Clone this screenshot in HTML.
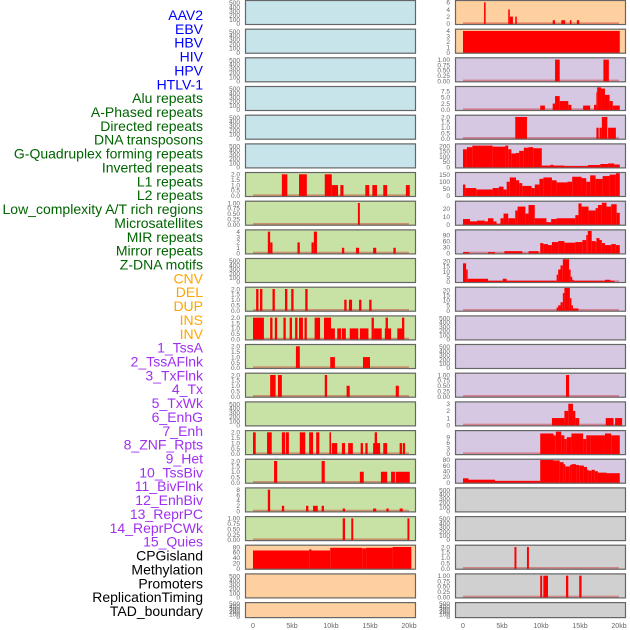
<!DOCTYPE html>
<html><head><meta charset="utf-8">
<style>
html,body{margin:0;padding:0;background:#fff;}
svg{display:block;font-family:"Liberation Sans",sans-serif;}
</style></head>
<body>
<svg id="chart" width="630" height="630" viewBox="0 0 630 630" xmlns="http://www.w3.org/2000/svg"></svg>
<script>
// ---- data ----
const trackLabels = ["AAV2","EBV","HBV","HIV","HPV","HTLV-1","Alu repeats","A-Phased repeats","Directed repeats","DNA transposons","G-Quadruplex forming repeats","Inverted repeats","L1 repeats","L2 repeats","Low_complexity A/T rich regions","Microsatellites","MIR repeats","Mirror repeats","Z-DNA motifs","CNV","DEL","DUP","INS","INV","1_TssA","2_TssAFlnk","3_TxFlnk","4_Tx","5_TxWk","6_EnhG","7_Enh","8_ZNF_Rpts","9_Het","10_TssBiv","11_BivFlnk","12_EnhBiv","13_ReprPC","14_ReprPCWk","15_Quies","CPGisland","Methylation","Promoters","ReplicationTiming","TAD_boundary"];
const labelGroups = [6,13,5,15,5];
const xTickLabels = ["0","5kb","10kb","15kb","20kb"];
const xTickValues = [0,5,10,15,20];

// segments: [startKb, endKb, value]
const leftL1 = [[3.7,4.4,2],[5.9,6.9,2],[9.2,10.1,2],[10.1,10.9,1],[11.2,11.6,1],[14.4,14.9,1],[15.3,15.9,1],[16.7,17.2,1],[19.6,20.1,1]];
const leftLowComp = [[13.45,13.7,1]];
const leftMIR = [[1.9,2.2,4],[2.2,2.5,2],[5.7,6.0,2],[7.5,7.8,2],[7.8,8.2,4],[11.4,11.7,1],[13.2,13.6,1],[15.4,15.8,1],[18.0,18.3,1]];
const leftDEL = [[0.4,0.7,2],[0.9,1.2,2],[2.5,2.8,2],[4.1,4.4,2],[4.9,5.2,2],[6.7,7.0,2],[11.7,12.0,1],[12.3,12.7,1],[13.6,13.9,1],[14.9,15.2,1]];
const leftINS = [[0,1.4,2],[2.2,2.5,2],[2.8,3.1,2],[3.9,4.2,2],[4.7,5.0,2],[5.4,5.7,2],[5.9,6.4,2],[6.6,6.9,2],[7.9,8.6,2],[9.1,10.0,2],[10.0,10.5,1],[10.8,11.3,1],[11.4,11.9,1],[12.4,13.5,1],[13.7,14.8,1],[15.2,15.5,2],[15.5,16.5,1],[16.9,17.7,1],[17.0,17.3,2],[18.5,19.1,1],[19.1,19.4,2]];
const leftTssA = [[5.5,6.0,2],[9.9,10.5,1],[14.1,15.0,1]];
const leftTxFlnk = [[2.2,2.9,2],[3.2,3.7,2],[9.2,9.5,2],[12.0,12.4,1],[18.3,18.7,1]];
const leftEnh = [[0,0.35,2],[1.8,2.4,2],[3.7,4.1,2],[4.2,4.6,2],[6.0,6.7,2],[7.2,7.7,2],[8.1,8.5,2],[9.8,10.0,2],[10.1,10.8,1],[11.4,11.8,1],[12.2,12.8,1],[13.8,14.1,1],[14.4,14.7,1],[15.4,16.3,1],[15.6,15.9,2],[16.7,17.2,1],[18.8,19.1,1],[19.2,19.5,1]];
const leftHet = [[2.7,3.1,2],[8.8,9.2,2],[13.7,14.2,1],[16.4,17.2,1],[17.7,18.2,1],[18.3,20.1,1]];
const leftBivFlnk = [[1.9,2.2,8],[3.7,4.0,2],[6.8,7.1,2],[7.7,8.3,2],[8.8,9.1,2],[11.5,11.8,1],[15.4,15.8,1],[17.1,17.4,1],[18.8,19.2,1]];
const leftReprPC = [[11.5,11.8,1],[12.6,12.85,1],[19.8,20.05,1]];
const leftCPG = [[0,7.2,67],[7.2,7.5,71],[7.5,9.9,67],[9.9,14.0,77],[14.0,14.5,75],[14.5,17.9,77],[17.9,20.3,80]];
const rightAAV2 = [[2.7,2.9,6],[5.8,6.0,4],[6.0,6.4,2],[6.7,6.9,2],[11.5,11.8,1],[12.6,13.1,1],[13.7,13.9,1],[14.6,14.9,1]];
const rightEBV = [[0,20.1,4]];
const rightHIV = [[11.8,12.4,1],[18.0,18.7,1]];
const rightAlu = [[9.9,10.5,1.7],[11.5,11.8,2.5],[11.8,12.4,5.5],[12.4,13.5,3.5],[13.5,13.9,2],[15.4,16.3,1.7],[16.8,17.1,2],[17.1,17.2,7],[17.2,17.7,9],[17.7,18.2,8.5],[18.2,18.8,6],[18.8,19.2,3.5],[19.2,20.1,1.7]];
const rightDirected = [[6.7,8.2,2],[17.1,17.4,1],[17.5,17.8,1],[17.8,18.5,2],[18.6,19.6,1]];
const rightGQuad = [[0,0.5,170],[0.5,1.2,190],[1.2,3.8,205],[3.8,5.4,195],[5.4,5.8,205],[5.8,6.2,170],[6.2,6.8,130],[6.8,7.2,135],[7.2,7.8,155],[7.8,8.4,185],[8.4,9.0,190],[9.0,10.1,180],[10.1,11.2,15],[11.2,11.6,22],[11.6,13.0,15],[13.0,16.0,10],[16.0,17.6,20],[17.6,18.6,30],[18.6,19.4,35],[19.4,20.1,25]];
const rightL1 = [[0,0.3,80],[0.3,1.7,55],[1.7,3.8,45],[3.8,4.6,55],[4.6,5.2,65],[5.2,5.6,45],[5.6,6.0,100],[6.0,6.8,130],[6.8,7.2,110],[7.2,7.6,90],[7.6,8.8,70],[8.8,9.2,55],[9.2,9.8,80],[9.8,10.3,120],[10.3,11.4,130],[11.4,12.0,110],[12.0,13.4,95],[13.4,14.0,100],[14.0,15.2,135],[15.2,15.8,125],[15.8,16.3,100],[16.3,17.0,145],[17.0,17.9,120],[17.9,18.8,140],[18.8,19.6,150],[19.6,20.1,160]];
const rightLowComp = [[0,0.9,7],[0.9,1.8,4],[1.8,2.8,5],[2.8,3.2,4],[3.2,3.9,8],[3.9,4.3,4],[4.3,4.8,0.5],[4.8,5.2,8],[5.2,5.8,14],[5.8,6.7,8],[6.7,7.0,18],[7.0,8.0,23],[8.0,8.4,14],[8.4,9.2,25],[9.2,10.7,8],[10.7,11.3,3],[11.3,12.0,7],[12.0,14.4,8],[14.4,14.8,12],[14.8,15.2,27],[15.2,16.1,23],[16.1,17.0,18],[17.0,17.3,21],[17.3,17.8,25],[17.8,18.4,28],[18.4,19.0,23],[19.0,19.7,26],[19.7,20.1,15]];
const rightMIR = [[0,0.8,5],[3.2,4.1,5],[5.3,7.6,10],[8.4,9.7,10],[9.9,10.3,50],[10.3,10.9,45],[10.9,11.4,40],[11.4,12.2,55],[12.2,13.0,60],[13.0,14.4,52],[14.4,15.3,55],[15.3,15.8,65],[15.8,16.0,90],[16.0,16.5,110],[16.5,17.0,60],[17.0,17.1,55],[17.1,17.5,75],[17.5,17.8,65],[17.8,18.2,50],[18.2,19.0,40],[19.0,19.6,45],[19.6,20.1,40]];
const rightZDNA = [[0,0.4,18],[0.4,0.6,12],[0.6,3.2,3],[3.2,5.1,1],[5.1,5.6,3],[5.6,12.0,1],[12.0,12.2,7],[12.2,12.5,12],[12.5,12.8,16],[12.8,13.6,22],[13.6,13.8,12],[13.8,14.0,5],[14.0,14.2,2],[14.2,18.2,1],[18.2,18.9,2],[18.9,19.4,1]];
const rightDEL = [[12.0,12.2,3],[12.2,12.5,5],[12.5,12.8,8],[12.8,13.0,17],[13.0,13.7,22],[13.7,13.9,12],[13.9,14.1,5],[14.1,14.8,2]];
const rightTx = [[13.2,13.6,1]];
const rightTxWk = [[11.4,13.0,1],[13.0,13.5,2],[13.5,14.1,3],[14.1,14.4,2],[14.4,14.9,1],[18.3,19.3,1],[19.5,20.4,1]];
const rightEnh = [[9.9,11.6,11],[11.6,11.9,10],[11.9,12.6,12],[12.6,13.0,10],[13.0,13.3,8],[13.3,13.9,9],[13.9,15.4,11],[15.4,15.8,8],[15.8,16.3,10],[16.3,18.2,10],[18.2,19.0,11],[19.0,20.1,10]];
const rightHet = [[0,0.7,15],[0.7,4.1,10],[4.1,9.9,6],[9.9,11.6,80],[11.6,12.4,78],[12.4,12.9,72],[12.9,13.1,65],[13.1,13.7,57],[13.7,13.9,62],[13.9,14.5,65],[14.5,14.9,62],[14.9,15.5,60],[15.5,15.9,55],[15.9,16.1,45],[16.1,16.5,42],[16.5,16.9,45],[16.9,17.3,40],[17.3,18.4,35],[18.4,20.1,33]];
const rightCPG = [[6.6,6.85,2],[8.2,8.45,2]];
const rightMeth = [[9.9,10.15,1],[10.3,10.9,1],[13.2,13.5,1],[14.9,15.2,1]];

// y tick label sets
const ticksEmpty = ["0","100","200","300","400","500"];
const ticks2 = ["0.0","0.5","1.0","1.5","2.0"];
const ticks1 = ["0.00","0.25","0.50","0.75","1.00"];

// ---- layout ----
const svg = document.getElementById('chart');
const NS = 'http://www.w3.org/2000/svg';
function mk(tag, attrs, parent){ const e=document.createElementNS(NS,tag); for(const k in attrs) e.setAttribute(k,attrs[k]); (parent||svg).appendChild(e); return e; }

const groupColors = ["#0000ff","#006400","#ffa500","#a030f0","#000000"];
let gi=0, cnt=0;
trackLabels.forEach((t,i)=>{
  while(cnt>=labelGroups[gi]){ gi++; cnt=0; }
  cnt++;
  const e = mk('text',{x:203,y:(15+i*13.86+5).toFixed(1),'text-anchor':'end','font-size':'14',fill:groupColors[gi]});
  e.textContent=t;
  
  
});

const BG = {blue:"#c7e4eb",green:"#c8e2a5",peach:"#ffd09f",lav:"#d6c8e2",grey:"#d0d0d0"};
// panel specs: [bgKey, ymax, tickLabels, data]
const leftPanels = [
 ["blue",540,ticksEmpty,null],["blue",540,ticksEmpty,null],["blue",540,ticksEmpty,null],["blue",540,ticksEmpty,null],["blue",540,ticksEmpty,null],["blue",540,ticksEmpty,null],
 ["green",2.1,ticks2,leftL1],["green",1.05,ticks1,leftLowComp],["green",4.2,["0","1","2","3","4"],leftMIR],["green",540,ticksEmpty,null],
 ["green",2.1,ticks2,leftDEL],["green",2.1,ticks2,leftINS],["green",2.1,ticks2,leftTssA],["green",2.1,ticks2,leftTxFlnk],["green",540,ticksEmpty,null],
 ["green",2.1,ticks2,leftEnh],["green",2.1,ticks2,leftHet],["green",8.4,["0","2","4","6","8"],leftBivFlnk],["green",1.05,ticks1,leftReprPC],
 ["peach",84,["0","20","40","60","80"],leftCPG],["peach",540,ticksEmpty,null],["peach",540,ticksEmpty,null]
];
const rightPanels = [
 ["peach",6.3,["0","2","4","6"],rightAAV2],["peach",4.2,["0","1","2","3","4"],rightEBV],
 ["lav",1.05,ticks1,rightHIV],["lav",9.05,["0.0","2.5","5.0","7.5"],rightAlu],["lav",2.1,ticks2,rightDirected],
 ["lav",215,["0","50","100","150","200"],rightGQuad],["lav",160,["0","50","100","150"],rightL1],["lav",29,["0","10","20"],rightLowComp],
 ["lav",112,["0","30","60","90"],rightMIR],["lav",22,["0","5","10","15","20"],rightZDNA],["lav",22,["0","5","10","15","20"],rightDEL],
 ["lav",540,ticksEmpty,null],["lav",540,ticksEmpty,null],["lav",1.05,ticks1,rightTx],["lav",3.17,["0","1","2","3"],rightTxWk],
 ["lav",12.2,["0","3","6","9"],rightEnh],["lav",80,["0","20","40","60","80"],rightHet],
 ["grey",540,ticksEmpty,null],["grey",540,ticksEmpty,null],["grey",2.1,ticks2,rightCPG],["grey",1.05,ticks1,rightMeth],["grey",540,ticksEmpty,null]
];

function drawPanel(spec,row,col){
  const [bgk,ymax,ticks,data]=spec;
  const x0 = col===0?245:455, x1 = col===0?416:626;
  const top = row*28.67, h = row===21?16:25;
  const g = mk('g',{});
  
  
  mk('rect',{x:x0,y:top.toFixed(1),width:x1-x0,height:h,fill:BG[bgk]},g);
  const bottom = top+h-1.2, span = h-2.4;
  const yS = v => bottom - v/ymax*span;
  const xS = kb => Math.max(x0, Math.min(x1, (col===0?253:463) + kb*7.8));
  if(data){
    mk('rect',{x:xS(0),y:(bottom-1.5).toFixed(1),width:(xS(20)-xS(0)).toFixed(1),height:2,fill:'rgba(200,0,0,0.35)'},g);
    data.forEach(d=>{
      const b = mk('rect',{x:xS(d[0]).toFixed(2),y:yS(d[2]).toFixed(2),width:Math.max(0.8,xS(d[1])-xS(d[0])).toFixed(2),height:(bottom-yS(d[2])+1).toFixed(2),fill:'#ff0000'},g);
      
      
    });
  }
  mk('rect',{x:x0+0.5,y:(top+0.5).toFixed(1),width:x1-x0-1,height:h-1,fill:'none',stroke:'#666',"stroke-width":1.2},g);
  const n = ticks.length;
  ticks.forEach((t,i)=>{
    let v = (ymax===540)? i*100 : parseFloat(t);
    let y = yS(v);
    if(row===21) y = bottom - (i/(n-1))*(h-3);
    const tx = mk('text',{x:col===0?240:450,y:(y+2.3).toFixed(1),'text-anchor':'end','font-size':'6.5',fill:'#666'},g);
    tx.textContent=t;
    
    
  });
}
leftPanels.forEach((p,r)=>drawPanel(p,r,0));
rightPanels.forEach((p,r)=>drawPanel(p,r,1));

[0,1].forEach(col=>{
  xTickValues.forEach((v,i)=>{
    const t = mk('text',{x:((col===0?253:463)+v*7.8).toFixed(1),y:628,'text-anchor':'middle','font-size':'7',fill:'#666'});
    t.textContent=xTickLabels[i];
    
    
  });
});
</script>
</body></html>
